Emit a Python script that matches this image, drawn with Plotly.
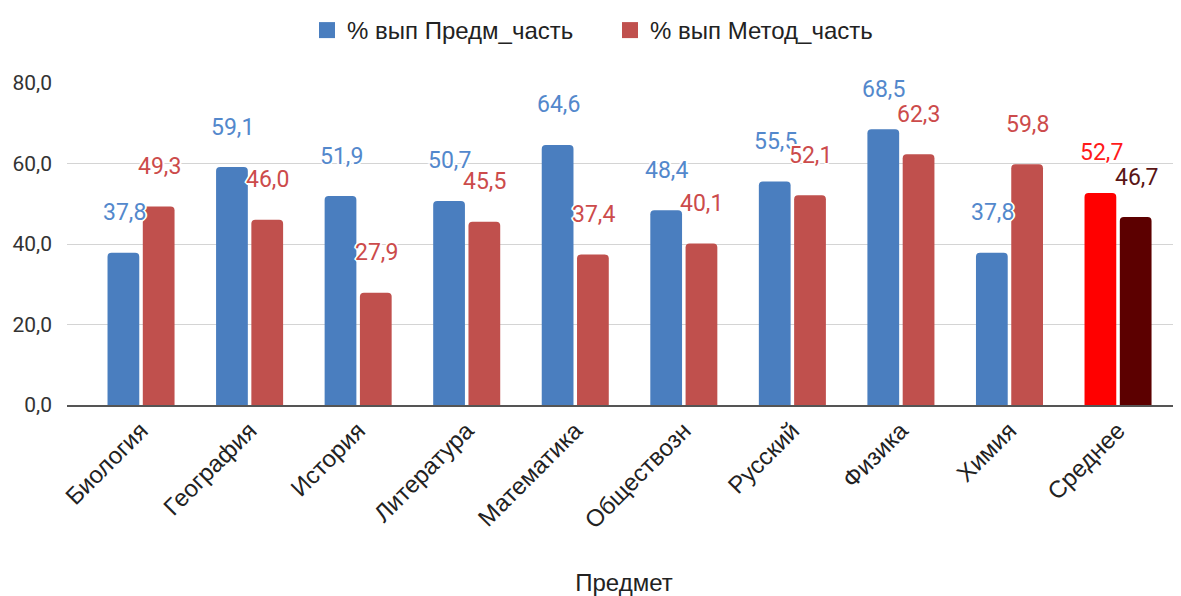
import plotly.graph_objects as go

categories = ["Биология", "География", "История", "Литература", "Математика",
              "Обществозн", "Русский", "Физика", "Химия", "Среднее"]
predm = [37.8, 59.1, 51.9, 50.7, 64.6, 48.4, 55.5, 68.5, 37.8, 52.7]
metod = [49.3, 46.0, 27.9, 45.5, 37.4, 40.1, 52.1, 62.3, 59.8, 46.7]
series_names = ["% вып Предм_часть", "% вып Метод_часть"]
y_ticks = [0, 20, 40, 60, 80]

BLUE = "#4a7ebf"
RED = "#c0504d"
BLUE_TXT = "#5388cc"
RED_TXT = "#cc4b4b"
AVG_BLUE = "#ff0000"
AVG_RED = "#5c0000"

n = len(categories)
blue_colors = [BLUE] * (n - 1) + [AVG_BLUE]
red_colors = [RED] * (n - 1) + [AVG_RED]
blue_txt = [BLUE_TXT] * (n - 1) + ["#ff1a1a"]
red_txt = [RED_TXT] * (n - 1) + ["#5a1515"]

FONT = "Roboto, Arial, sans-serif"
FONT2 = "'Liberation Sans', Arial, sans-serif"

fig = go.Figure()
fig.add_trace(go.Bar(x=categories, y=predm, name=series_names[0],
                     marker=dict(color=blue_colors, cornerradius=4, line_width=0),
                     showlegend=False))
fig.add_trace(go.Bar(x=categories, y=metod, name=series_names[1],
                     marker=dict(color=red_colors, cornerradius=4, line_width=0),
                     showlegend=False))
# legend entries
fig.add_trace(go.Scatter(x=[None], y=[None], mode="markers", name=series_names[0],
                         marker=dict(symbol="square", size=20, color=BLUE)))
fig.add_trace(go.Scatter(x=[None], y=[None], mode="markers", name=series_names[1],
                         marker=dict(symbol="square", size=20, color=RED)))

halo = "1px 1px 0 #fff, -1px -1px 0 #fff, 1px -1px 0 #fff, -1px 1px 0 #fff, 0 2px 0 #fff, 0 -2px 0 #fff, 2px 0 0 #fff, -2px 0 0 #fff"
for i, c in enumerate(categories):
    for vals, cols, shift in ((predm, blue_txt, -17), (metod, red_txt, 18)):
        fig.add_annotation(x=c, y=vals[i], text=f"{vals[i]:.1f}".replace(".", ","),
                           showarrow=False, xshift=shift, yshift=40,
                           xanchor="center", yanchor="middle",
                           font=dict(family=FONT, size=23, color=cols[i], shadow=halo))

# page body adds an 8px offset; figure is sized to compensate
W, H = 1173, 588
ML, MT, MB = 59, 73, 191
PW = W - ML
PH = H - MT - MB

fig.update_layout(
    width=W, height=H,
    margin=dict(l=ML, r=0, t=MT, b=MB),
    paper_bgcolor="white", plot_bgcolor="white",
    barmode="group", bargap=0.35, bargroupgap=0.1,
    separators=",.",
    font=dict(family=FONT, color="#222222"),
    legend=dict(orientation="h", xref="paper", yref="paper",
                x=(610 - ML - 8) / PW, xanchor="center",
                y=(PH + 53) / PH, yanchor="middle",
                font=dict(family=FONT2, size=24, color="#222222"), itemsizing="trace",
                tracegroupgap=0, itemwidth=30, entrywidth=258, entrywidthmode="pixels"),
    xaxis=dict(range=[-0.682, 9.58], tickangle=-45, automargin=False,
               tickfont=dict(family=FONT2, size=24, color="#222222"),
               showgrid=False, showline=True, linecolor="#555555", linewidth=2,
               ticks="", title=dict(text="Предмет", font=dict(family=FONT2, size=24, color="#222222"), standoff=48)),
    yaxis=dict(range=[0, 80], tickvals=y_ticks, tickformat=".1f", automargin=False,
               tickfont=dict(size=21, color="#333333"), showgrid=True,
               gridcolor="#d4d4d4", gridwidth=1, zeroline=False, showline=False,
               ticklabelstandoff=14),
)

fig.write_html("out.html")
